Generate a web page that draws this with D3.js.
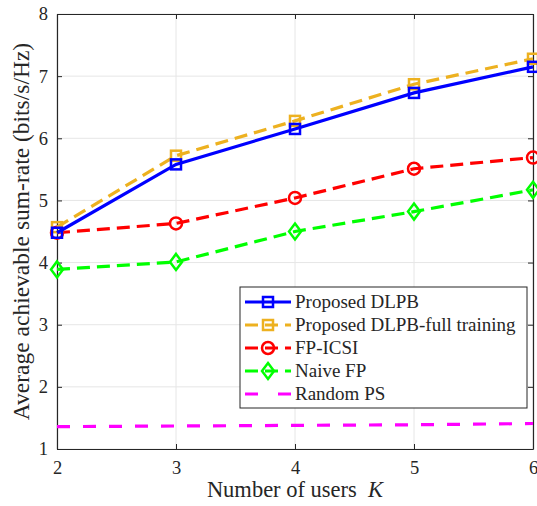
<!DOCTYPE html>
<html>
<head>
<script src="https://d3js.org/d3.v7.min.js"></script>
<style>
  body { margin: 0; background: #fff; }
  text { font-family: "Liberation Serif", "Times New Roman", serif; fill: #262626; }
</style>
</head>
<body>
<div id="chart"></div>
<script>
// data
const users = [2, 3, 4, 5, 6];
const dlpb = [4.48, 5.58, 6.15, 6.73, 7.15];
const dlpbFull = [4.57, 5.72, 6.28, 6.87, 7.28];
const fpIcsi = [4.48, 4.63, 5.04, 5.51, 5.69];
const naiveFp = [3.89, 4.01, 4.50, 4.82, 5.17];
const randomPs = [1.36, 1.37, 1.38, 1.39, 1.41];
const xTicks = [2, 3, 4, 5, 6];
const yTicks = [1, 2, 3, 4, 5, 6, 7, 8];

const series = [
  { name: "Proposed DLPB", values: dlpb, color: "#0000ff", dash: null, marker: "square" },
  { name: "Proposed DLPB-full training", values: dlpbFull, color: "#edb120", dash: "13,7", marker: "square" },
  { name: "FP-ICSI", values: fpIcsi, color: "#ff0000", dash: "13,7", marker: "circle" },
  { name: "Naive FP", values: naiveFp, color: "#00ff00", dash: "13,7", marker: "diamond" },
  { name: "Random PS", values: randomPs, color: "#ff00ff", dash: "13,13", marker: null }
];

const width = 537, height = 506;
const margin = { top: 14, right: 4, bottom: 57, left: 57 };

const svg = d3.select("#chart").append("svg")
  .attr("width", width)
  .attr("height", height);

const x = d3.scaleLinear().domain([2, 6]).range([margin.left, width - margin.right]);
const y = d3.scaleLinear().domain([1, 8]).range([height - margin.bottom, margin.top]);

// grid
svg.append("g").selectAll("line").data(xTicks).enter().append("line")
  .attr("x1", d => x(d)).attr("x2", d => x(d))
  .attr("y1", y(1)).attr("y2", y(8))
  .attr("stroke", "#e6e6e6").attr("stroke-width", 1);
svg.append("g").selectAll("line").data(yTicks).enter().append("line")
  .attr("x1", x(2)).attr("x2", x(6))
  .attr("y1", d => y(d)).attr("y2", d => y(d))
  .attr("stroke", "#e6e6e6").attr("stroke-width", 1);

// axes
const fmt = d3.format("d");
const xAxis = svg.append("g")
  .attr("transform", `translate(0,${y(1)})`)
  .call(d3.axisBottom(x).tickValues(xTicks).tickFormat(fmt).tickSizeInner(-5).tickSizeOuter(0).tickPadding(12));
const xAxisTop = svg.append("g")
  .attr("transform", `translate(0,${y(8)})`)
  .call(d3.axisTop(x).tickValues(xTicks).tickSizeInner(-5).tickSizeOuter(0).tickFormat(""));
const yAxis = svg.append("g")
  .attr("transform", `translate(${x(2)},0)`)
  .call(d3.axisLeft(y).tickValues(yTicks).tickFormat(fmt).tickSizeInner(-5).tickSizeOuter(0).tickPadding(9));
const yAxisRight = svg.append("g")
  .attr("transform", `translate(${x(6)},0)`)
  .call(d3.axisRight(y).tickValues(yTicks).tickSizeInner(-5).tickSizeOuter(0).tickFormat(""));

[xAxis, xAxisTop, yAxis, yAxisRight].forEach(a => {
  a.attr("font-family", "Liberation Serif").attr("font-size", 18.5);
  a.select(".domain").attr("stroke", "#262626").attr("stroke-width", 1.2);
  a.selectAll(".tick line").attr("stroke", "#262626");
  a.selectAll(".tick text").attr("fill", "#262626");
});

// lines
const line = d3.line().x((d, i) => x(users[i])).y(d => y(d));

function drawMarker(g, type, cx, cy, color) {
  if (type === "square") {
    g.append("rect").attr("x", cx - 5).attr("y", cy - 5).attr("width", 10).attr("height", 10)
      .attr("fill", "none").attr("stroke", color).attr("stroke-width", 2.5);
  } else if (type === "circle") {
    g.append("circle").attr("cx", cx).attr("cy", cy).attr("r", 6)
      .attr("fill", "none").attr("stroke", color).attr("stroke-width", 2.5);
  } else if (type === "diamond") {
    g.append("path").attr("d", `M${cx},${cy - 8}L${cx + 6},${cy}L${cx},${cy + 8}L${cx - 6},${cy}Z`)
      .attr("fill", "none").attr("stroke", color).attr("stroke-width", 2.5);
  }
}

const plot = svg.append("g");
series.slice().reverse().forEach(s => {
  plot.append("path")
    .datum(s.values)
    .attr("d", line)
    .attr("fill", "none")
    .attr("stroke", s.color)
    .attr("stroke-width", 3.2)
    .attr("stroke-dasharray", s.dash);
  if (s.marker) {
    s.values.forEach((v, i) => drawMarker(plot, s.marker, x(users[i]), y(v), s.color));
  }
});

// legend
const legend = svg.append("g").attr("transform", "translate(240,287)");
legend.append("rect").attr("width", 287).attr("height", 121)
  .attr("fill", "#fff").attr("stroke", "#262626").attr("stroke-width", 1);
series.forEach((s, i) => {
  const ly = 15 + i * 23;
  const g = legend.append("g");
  g.append("line").attr("x1", 5).attr("x2", 51).attr("y1", ly).attr("y2", ly)
    .attr("stroke", s.color).attr("stroke-width", 3.2)
    .attr("stroke-dasharray", s.dash ? (s.marker ? "13,7" : "13,20") : null);
  if (s.marker) drawMarker(g, s.marker, 28, ly, s.color);
  g.append("text").attr("x", 55).attr("y", ly + 6)
    .style("font-size", "19px").text(s.name);
});

// axis labels
svg.append("text")
  .attr("x", (x(2) + x(6)) / 2).attr("y", 497)
  .attr("text-anchor", "middle")
  .style("font-size", "22.5px")
  .html('Number of users&#160;&#160;<tspan font-style="italic">K</tspan>');

svg.append("text")
  .attr("transform", `translate(29,${(y(1) + y(8)) / 2}) rotate(-90)`)
  .attr("text-anchor", "middle")
  .style("font-size", "23.5px")
  .text("Average achievable sum-rate (bits/s/Hz)");
</script>
</body>
</html>
